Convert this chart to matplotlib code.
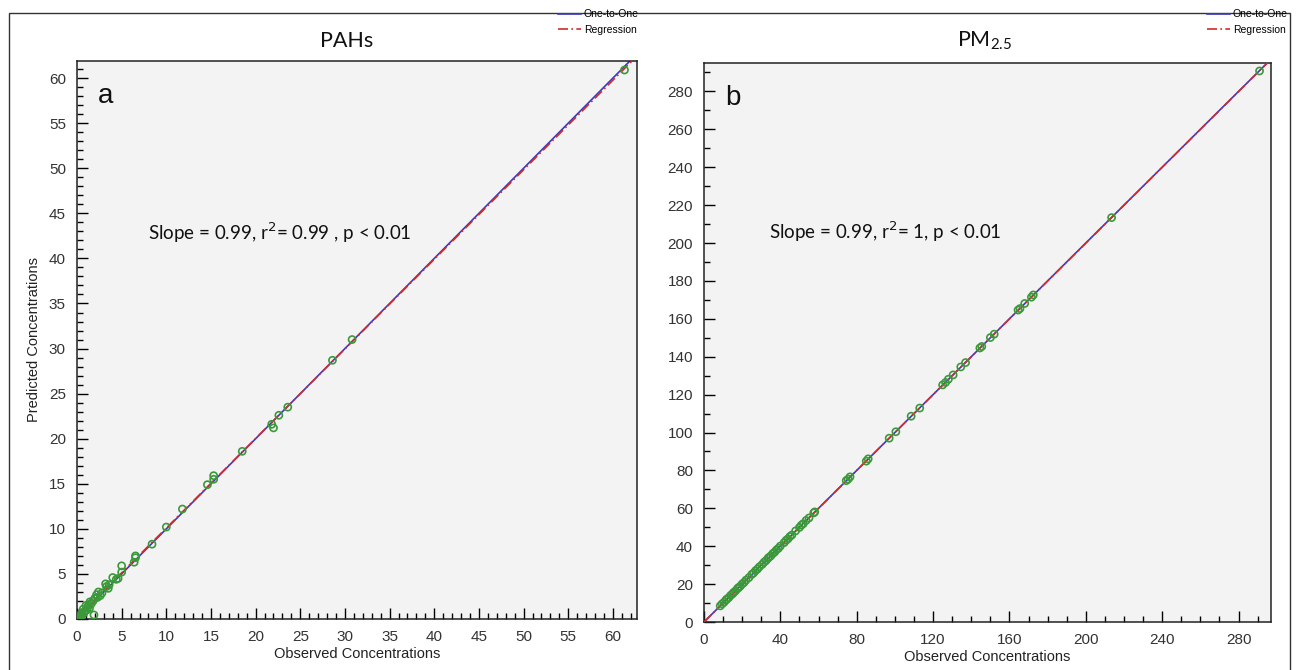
import numpy as np
import matplotlib
matplotlib.use('Agg')
import matplotlib.pyplot as plt
from matplotlib.ticker import MultipleLocator
from matplotlib.lines import Line2D
from matplotlib.patches import Rectangle

plt.rcParams['font.family'] = ['Liberation Sans', 'DejaVu Sans']

# PAHs: observed vs predicted
pah_obs = [61.3, 30.8, 28.6, 23.6, 22.6, 21.8, 22.0, 18.5, 15.3, 15.3, 14.6, 11.8, 10.0, 8.4,
           6.55, 6.55, 6.4, 5.0, 5.0, 4.0, 4.4, 4.6, 3.2, 3.3, 3.5, 3.6, 2.4, 2.2, 2.8, 2.6,
           2.0, 1.8, 1.45, 1.3, 1.0, 1.2, 0.7, 0.9, 0.55, 0.6, 0.5, 0.3, 0.2, 1.9, 1.1, 0.8,
           1.6, 2.3, 0.4, 1.4]
pah_pred = [60.9, 31.0, 28.7, 23.5, 22.6, 21.6, 21.2, 18.6, 15.9, 15.5, 14.9, 12.2, 10.2, 8.3,
            7.0, 6.8, 6.3, 5.9, 5.2, 4.6, 4.4, 4.5, 3.9, 3.6, 3.4, 3.8, 3.0, 2.7, 2.9, 2.6,
            2.3, 2.0, 1.9, 1.6, 1.5, 1.3, 1.1, 0.9, 0.7, 0.5, 0.4, 0.3, 0.1, 0.45, 1.0, 0.7,
            1.7, 2.4, 0.2, 1.2]

# PM2.5: observed vs predicted
pm_obs = [8.5, 9.5, 10.5, 11.5, 12.0, 13.0, 14.0, 15.0, 15.5, 16.5, 17.5, 18.0, 19.0, 20.0,
          21.0, 22.0, 23.5, 25.0, 26.0, 27.0, 28.0, 29.0, 30.5, 31.5, 32.5, 33.5, 34.0, 35.0,
          36.0, 37.0, 38.0, 39.0, 40.0, 42.0, 43.0, 44.0, 45.0, 46.0, 48.0, 50.0, 51.0, 52.0,
          53.5, 55.0, 57.5, 58.0, 74.5, 75.5, 76.5, 85.0, 86.0, 97.0, 100.5, 108.5, 113.0,
          125.0, 126.5, 128.0, 130.5, 134.5, 137.0, 144.5, 145.5, 150.0, 152.0, 164.5, 165.5,
          168.0, 171.5, 172.5, 213.5, 291.0]
pm_pred = [8.5, 9.6, 10.4, 11.6, 12.1, 12.9, 14.1, 14.9, 15.6, 16.4, 17.6, 18.1, 18.9, 20.1,
           20.9, 22.1, 23.4, 25.1, 25.9, 27.1, 27.9, 29.1, 30.4, 31.6, 32.4, 33.6, 34.1, 34.9,
           36.1, 36.9, 38.1, 38.9, 40.1, 41.9, 43.1, 43.9, 45.1, 45.9, 48.1, 49.9, 51.1, 51.9,
           53.6, 54.9, 57.6, 58.1, 74.6, 75.4, 76.6, 84.9, 86.1, 97.0, 100.4, 108.6, 112.9,
           125.1, 126.4, 128.1, 130.4, 134.6, 136.9, 144.6, 145.4, 150.1, 151.9, 164.6, 165.4,
           168.1, 171.4, 172.6, 213.4, 290.8]

fig = plt.figure(figsize=(12.96, 6.70), dpi=100)

# outer frame
fig.patches.append(Rectangle((9 / 1296, -0.01), 1281 / 1296, 1 - 13 / 670 + 0.01,
                             transform=fig.transFigure, fill=False, lw=1.0, ec='#333333'))

ax_a = fig.add_axes([77 / 1296, 1 - 619 / 670, 560 / 1296, 558 / 670])
ax_b = fig.add_axes([704 / 1296, 1 - 622 / 670, 567 / 1296, 559 / 670])

panels = [
    (ax_a, pah_obs, pah_pred, 62.7, 61.9, 5, 1, 5, 1, 'a',
     (8.0, 42.0), 'Slope = 0.99, r$^2$= 0.99 , p < 0.01'),
    (ax_b, pm_obs, pm_pred, 297, 295, 40, 10, 20, 10, 'b',
     (34.0, 202.0), 'Slope = 0.99, r$^2$= 1, p < 0.01'),
]

for ax, obs, pred, xmax, ymax, xmaj, xmin_, ymaj, ymin_, letter, txy, txt in panels:
    ax.set_facecolor('#f3f3f3')
    ax.set_xlim(0, xmax)
    ax.set_ylim(0, ymax)
    # one-to-one line
    lim = max(xmax, ymax)
    ax.plot([0, lim], [0, lim], color='#3a3ac0', lw=1.2, zorder=2)
    # regression line
    k, b = np.polyfit(obs, pred, 1)
    ax.plot([0, lim], [b, k * lim + b], color='#d42a2a', lw=1.2, ls=(0, (6, 2, 1, 2)), zorder=3)
    ax.scatter(obs, pred, s=26, facecolors='none', edgecolors='#3a9a3a', linewidths=1.2, zorder=4)

    ax.xaxis.set_major_locator(MultipleLocator(xmaj))
    ax.xaxis.set_minor_locator(MultipleLocator(xmin_))
    ax.yaxis.set_major_locator(MultipleLocator(ymaj))
    ax.yaxis.set_minor_locator(MultipleLocator(ymin_))
    ax.tick_params(which='major', direction='in', length=8, width=1.0, labelsize=11,
                   labelcolor='#333333', pad=8)
    ax.tick_params(which='minor', direction='in', length=4, width=1.0)
    ax.tick_params(top=False, right=False, which='both')
    for sp in ax.spines.values():
        sp.set_linewidth(1.1)
        sp.set_color('#222222')

    ax.set_xlabel('Observed Concentrations', fontsize=10.5, color='#222222', labelpad=2)
    ax.text(txy[0], txy[1], txt, fontsize=13.5, family=['Lato', 'DejaVu Sans'], color='#111111')
    ax.text(0.038 * xmax, 0.925 * ymax, letter, fontsize=20, color='#111111')

ax_a.set_ylabel('Predicted Concentrations', fontsize=10.5, color='#222222', labelpad=6)

# titles
fig.text(347 / 1296, 1 - 41 / 670, 'PAHs', fontsize=15.5, family=['Lato', 'DejaVu Sans'],
         ha='center', va='center', color='#111111')
fig.text(985 / 1296, 1 - 41 / 670, 'PM$_{\\mathregular{2.5}}$', fontsize=15.5,
         family=['Lato', 'DejaVu Sans'], ha='center', va='center', color='#111111')

handles = [Line2D([], [], color='#3a3ac0', lw=1.2),
           Line2D([], [], color='#d42a2a', lw=1.2, ls=(0, (6, 2, 1, 2)))]
for xr in (0.496, 0.997):
    fig.legend(handles, ['One-to-One', 'Regression'], loc='upper right',
               bbox_to_anchor=(xr, 1 - 5 / 670), frameon=False, fontsize=7.5,
               handlelength=2.2, handletextpad=0.3, labelspacing=0.55, borderaxespad=0)

fig.savefig('out.png', dpi=100)
